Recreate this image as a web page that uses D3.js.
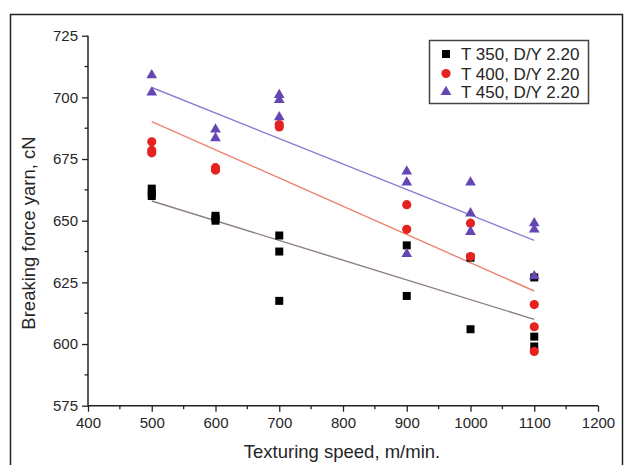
<!DOCTYPE html>
<html><head><meta charset="utf-8">
<script src="https://cdn.jsdelivr.net/npm/d3@7"></script>
<style>body{margin:0;background:#fff}svg{display:block;font-family:"Liberation Sans",Arial,sans-serif}</style>
</head><body>
<script>
// ---- data ----
const seriesNames = ["T 350, D/Y 2.20", "T 400, D/Y 2.20", "T 450, D/Y 2.20"];
const t350X = [500,500,500,600,600,600,700,700,700,900,900,1000,1000,1100,1100,1100];
const t350Y = [663,661,660,652,651,650,644,637.5,617.5,640,619.5,635,606,627,603,599];
const t400X = [500,500,500,600,600,700,700,900,900,1000,1000,1100,1100,1100];
const t400Y = [682,678.5,677.5,671.5,670.5,689,688,656.5,646.5,649,635.5,616,607,597];
const t450X = [500,500,600,600,700,700,700,900,900,900,1000,1000,1000,1100,1100,1100];
const t450Y = [709,702,687,683.5,701,699,692,670,665.5,636.5,665.5,653,645.5,649,646.5,627.5];
const fitX = [500, 1100];
const fit350 = [658, 610];
const fit400 = [690.2, 621.5];
const fit450 = [704, 642];
const xTicks = [400,500,600,700,800,900,1000,1100,1200];
const yTicks = [575,600,625,650,675,700,725];

const W = 624, H = 465;
const svg = d3.select("body").append("svg").attr("width", W).attr("height", H);
svg.append("rect").attr("width", W).attr("height", H).attr("fill", "#fff");
// outer frame
svg.append("path").attr("d", "M10.5,470 L10.5,14.5 L622.5,14.5 L622.5,470")
  .attr("fill", "none").attr("stroke", "#222").attr("stroke-width", 1.5);

const x = d3.scaleLinear().domain([400, 1200]).range([88, 598]);
const y = d3.scaleLinear().domain([575, 725]).range([405.7, 35.7]);

const txt = "#262626";
// minor ticks
const xMinor = d3.range(450, 1200, 100);
const yMinor = d3.range(587.5, 725, 25);
const g = svg.append("g");
g.selectAll(".xm").data(xMinor).join("line")
  .attr("x1", d => x(d)).attr("x2", d => x(d)).attr("y1", y(575)).attr("y2", y(575) + 3.5)
  .attr("stroke", "#222").attr("stroke-width", 1.3);
g.selectAll(".ym").data(yMinor).join("line")
  .attr("y1", d => y(d)).attr("y2", d => y(d)).attr("x1", x(400)).attr("x2", x(400) - 3.5)
  .attr("stroke", "#222").attr("stroke-width", 1.3);

const xAxis = svg.append("g").attr("transform", `translate(0,${y(575)})`)
  .call(d3.axisBottom(x).tickValues(xTicks).tickSize(6).tickPadding(6).tickFormat(d3.format("d")));
const yAxis = svg.append("g").attr("transform", `translate(${x(400)},0)`)
  .call(d3.axisLeft(y).tickValues(yTicks).tickSize(6).tickPadding(4).tickFormat(d3.format("d")));
[xAxis, yAxis].forEach(a => {
  a.select(".domain").attr("stroke", "#222").attr("stroke-width", 1.5);
  a.selectAll(".tick line").attr("stroke", "#222").attr("stroke-width", 1.3);
  a.selectAll("text").attr("fill", txt).style("font-size", "15px").style("font-family", '"Liberation Sans",Arial,sans-serif');
});
// remove outer tick sizes on domain path
xAxis.select(".domain").attr("d", `M${x(400)},0H${x(1200)}`);
yAxis.select(".domain").attr("d", `M0,${y(575)}V${y(725)}`);

// axis titles
svg.append("text").attr("x", 342).attr("y", 458).attr("text-anchor", "middle")
  .attr("fill", txt).style("font-size", "18.5px").text("Texturing speed, m/min.");
svg.append("text").attr("transform", "translate(35,233) rotate(-90)").attr("text-anchor", "middle")
  .attr("fill", txt).style("font-size", "18.5px").text("Breaking force yarn, cN");

// fit lines
const lineGen = d3.line().x(d => x(d[0])).y(d => y(d[1]));
const fits = [
  {v: fit350, c: "#8c7f7c"},
  {v: fit400, c: "#ee8470"},
  {v: fit450, c: "#8e80d2"}
];
fits.forEach(f => {
  svg.append("path").datum(fitX.map((xx, i) => [xx, f.v[i]]))
    .attr("d", lineGen).attr("fill", "none").attr("stroke", f.c).attr("stroke-width", 1.4);
});

// points
const series = [
  {xs: t350X, ys: t350Y, sym: d3.symbolSquare, size: 64, c: "#000"},
  {xs: t400X, ys: t400Y, sym: d3.symbolCircle, size: 66, c: "#e42320"},
  {xs: t450X, ys: t450Y, sym: d3.symbolTriangle, size: 50, c: "#6547b3"}
];
series.forEach(s => {
  const pts = s.xs.map((xx, i) => [xx, s.ys[i]]);
  svg.append("g").selectAll("path").data(pts).join("path")
    .attr("transform", d => `translate(${x(d[0])},${y(d[1])})`)
    .attr("d", d3.symbol().type(s.sym).size(s.size)).attr("fill", s.c);
});

// legend
const lg = svg.append("g");
lg.append("rect").attr("x", 429.5).attr("y", 40.5).attr("width", 159).attr("height", 63)
  .attr("fill", "#fff").attr("stroke", "#444").attr("stroke-width", 1.5);
const rowY = [54, 73.5, 92];
series.forEach((s, i) => {
  lg.append("path").attr("transform", `translate(446,${rowY[i]})`)
    .attr("d", d3.symbol().type(s.sym).size(s.size)).attr("fill", s.c);
  lg.append("text").attr("x", 461).attr("y", rowY[i]).attr("dy", "0.36em")
    .attr("fill", txt).style("font-size", "17px").text(seriesNames[i]);
});
</script>
</body></html>
